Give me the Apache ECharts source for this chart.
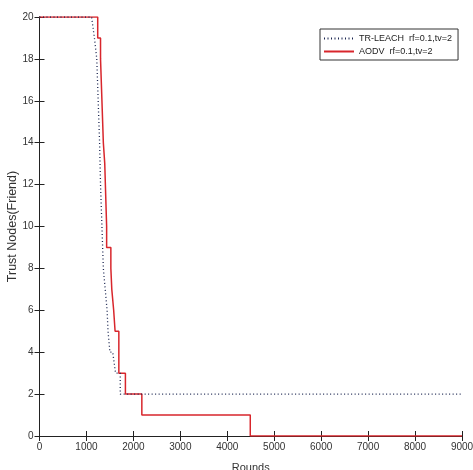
<!DOCTYPE html>
<html>
<head>
<meta charset="utf-8">
<script src="https://cdn.jsdelivr.net/npm/echarts@6/dist/echarts.min.js"></script>
<style>
html, body { margin: 0; padding: 0; background: #fff; }
#chart { width: 473px; height: 470px; }
</style>
</head>
<body>
<div id="chart"></div>
<script>
// x ticks and y ticks
var xTicks = [0, 1000, 2000, 3000, 4000, 5000, 6000, 7000, 8000, 9000];
var yTicks = [0, 2, 4, 6, 8, 10, 12, 14, 16, 18, 20];

var seriesNames = ['TR-LEACH  rf=0.1,tv=2', 'AODV  rf=0.1,tv=2'];

// TR-LEACH: rounds vs trust nodes
var leachRounds = [0, 1110, 1170, 1220, 1250, 1280, 1300, 1330, 1360, 1400, 1440, 1460, 1500, 1560, 1620, 1720, 1720, 9000];
var leachNodes  = [20, 20, 19, 18, 16, 14, 12, 10, 8, 7, 6, 5, 4, 4, 3, 3, 2, 2];

// AODV: rounds vs trust nodes
var aodvRounds = [0, 1240, 1240, 1300, 1300, 1330, 1360, 1390, 1430, 1430, 1520, 1520, 1540, 1580, 1580, 1610, 1690, 1690, 1830, 1830, 2180, 2180, 4490, 4490, 9000];
var aodvNodes  = [20, 20, 19, 19, 18, 18, 14, 13, 10, 9, 9, 8, 7, 7, 6, 5, 5, 3, 3, 2, 2, 1, 1, 0, 0];

function pairs(xs, ys) {
  return xs.map(function (x, i) { return [x, ys[i]]; });
}

var chart = echarts.init(document.getElementById('chart'), null, {renderer: 'canvas'});

var font = 'Liberation Sans, Arial, sans-serif';
var axisLine = {show: true, lineStyle: {color: '#222', width: 1}};
var tick = {show: true, inside: true, length: 5, lineStyle: {color: '#222'}};
var plain = function (v) { return String(v); };

var option = {
  backgroundColor: '#fff',
  animation: false,
  grid: {left: 39.5, right: 11, top: 17, bottom: 34, containLabel: false, outerBoundsMode: 'none'},
  legend: {
    data: seriesNames,
    orient: 'vertical',
    left: 320,
    top: 29,
    padding: [5, 6, 4, 3],
    itemGap: 4,
    itemWidth: 30,
    itemHeight: 10,
    borderColor: '#333',
    borderWidth: 1,
    backgroundColor: '#fff',
    itemStyle: {opacity: 0},
    textStyle: {fontFamily: font, fontSize: 9, color: '#222'}
  },
  xAxis: [
    {
      type: 'value', min: 0, max: 9000, interval: 1000, position: 'bottom',
      name: 'Rounds', nameLocation: 'middle', nameGap: 26, nameMoveOverlap: false,
      nameTextStyle: {fontFamily: font, fontSize: 11, color: '#333'},
      axisLine: axisLine, axisTick: tick,
      axisLabel: {fontFamily: font, fontSize: 10, color: '#333', margin: 6, formatter: plain},
      splitLine: {show: false}
    },
    {
      type: 'value', min: 0, max: 9000, interval: 1000, position: 'top',
      axisLine: axisLine, axisTick: tick, axisLabel: {show: false}, splitLine: {show: false}
    }
  ],
  yAxis: [
    {
      type: 'value', min: 0, max: 20, interval: 2, position: 'left',
      name: 'Trust Nodes(Friend)', nameLocation: 'middle', nameGap: 20, nameMoveOverlap: false,
      nameTextStyle: {fontFamily: font, fontSize: 12.5, color: '#333'},
      axisLine: axisLine, axisTick: tick,
      axisLabel: {fontFamily: font, fontSize: 10, color: '#333', margin: 6, formatter: plain},
      splitLine: {show: false}
    },
    {
      type: 'value', min: 0, max: 20, interval: 2, position: 'right',
      axisLine: axisLine, axisTick: tick, axisLabel: {show: false}, splitLine: {show: false}
    }
  ],
  series: [
    {
      name: seriesNames[0],
      type: 'line',
      data: pairs(leachRounds, leachNodes),
      symbol: 'none',
      lineStyle: {color: '#1a2550', width: 1.3, type: [1, 2.5]},
      itemStyle: {color: '#1a2550'},
      z: 3
    },
    {
      name: seriesNames[1],
      type: 'line',
      data: pairs(aodvRounds, aodvNodes),
      symbol: 'none',
      lineStyle: {color: '#d8262c', width: 1.5},
      itemStyle: {color: '#d8262c'},
      z: 2
    }
  ]
};

chart.setOption(option);
</script>
</body>
</html>
